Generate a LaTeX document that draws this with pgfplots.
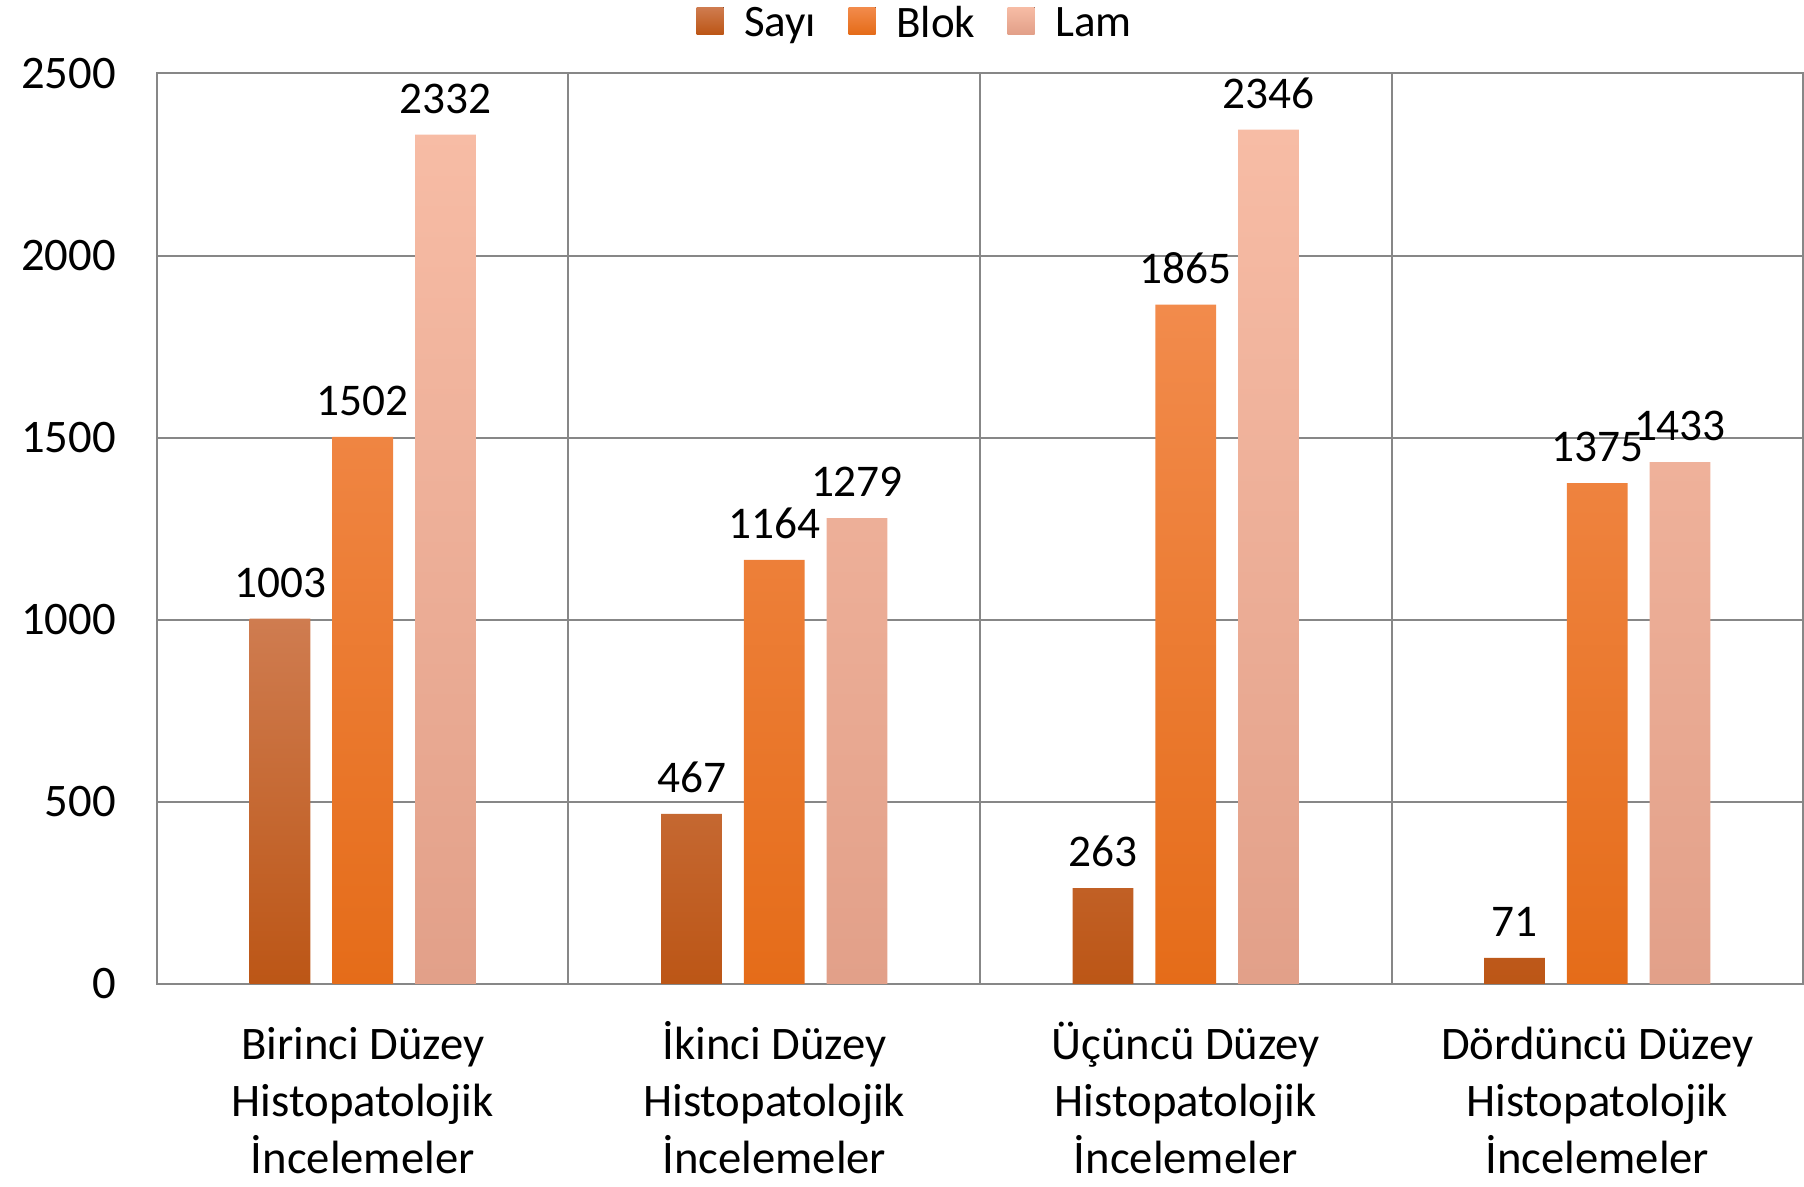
\documentclass[border=0pt]{standalone}
\usepackage{fontspec}
\setmainfont{Carlito}
\usepackage{pgfplots}
\pgfplotsset{compat=1.18}
\definecolor{gridgray}{HTML}{878787}
\definecolor{sayiT}{HTML}{CF7C50}
\definecolor{sayiB}{HTML}{BC5616}
\definecolor{blokT}{HTML}{F28B4C}
\definecolor{blokM}{HTML}{F57F2D}
\definecolor{blokB}{HTML}{E56C19}
\definecolor{lamT}{HTML}{F7BCA5}
\definecolor{lamB}{HTML}{E2A089}
\newcommand{\fl}{\rule{0pt}{12pt}}
\begin{document}
\begin{tikzpicture}
\begin{axis}[
  name=ax,
  scale only axis,
  width=493.8pt, height=273.1pt,
  xmin=-0.5, xmax=3.5, ymin=0, ymax=2500,
  ytick={0,500,...,2500},
  xtick={0,1,2,3},
  xticklabels={{\fl Birinci Düzey\\Histopatolojik\\İncelemeler},{\fl İkinci Düzey\\Histopatolojik\\İncelemeler},{\fl Üçüncü Düzey\\Histopatolojik\\İncelemeler},{\fl Dördüncü Düzey\\Histopatolojik\\İncelemeler}},
  xticklabel style={align=center, font=\fontsize{14}{17}\selectfont, anchor=north, inner ysep=0pt, yshift=-10.6pt},
  yticklabel style={font=\fontsize{14}{17}\selectfont, xshift=-8.8pt},
  /pgf/number format/assume math mode=true,
  /pgf/number format/1000 sep={},
  major tick length=0pt,
  ymajorgrids,
  extra x ticks={0.5,1.5,2.5},
  extra x tick labels={},
  extra x tick style={xmajorgrids=true, major tick length=0pt},
  grid style={gridgray, line width=0.6pt},
  axis line style={gridgray, line width=0.6pt},
  ybar, bar width=0.148,
  nodes near coords,
  every node near coord/.append style={font=\fontsize{13.6}{16}\selectfont, black, yshift=2.8pt},
  legend style={at={(0.462,1)}, anchor=south, yshift=5pt, draw=none, legend columns=3,
    font=\fontsize{13.5}{16}\selectfont,
    /tikz/every odd column/.append style={column sep=4.2pt},
    /tikz/every even column/.append style={column sep=7.7pt}},
  legend image code/.code={\fill[#1] (0pt,-2.8pt) rectangle (8.1pt,5.3pt);},
]
\addplot[draw=none, bar shift=-0.201, top color=sayiT, bottom color=sayiB] coordinates {(0,1003) (1,467) (2,263) (3,71)};
\addplot[draw=none, bar shift=0, top color=blokT, middle color=blokM, bottom color=blokB] coordinates {(0,1502) (1,1164) (2,1865) (3,1375)};
\addplot[draw=none, bar shift=0.201, top color=lamT, bottom color=lamB] coordinates {(0,2332) (1,1279) (2,2346) (3,1433)};
\legend{Sayı, Blok, Lam}
\end{axis}
\pgfresetboundingbox
\path[use as bounding box] ([xshift=-47.1pt,yshift=-60.7pt]ax.south west) rectangle ([xshift=0.3pt,yshift=22.05pt]ax.north east);
\end{tikzpicture}
\end{document}
